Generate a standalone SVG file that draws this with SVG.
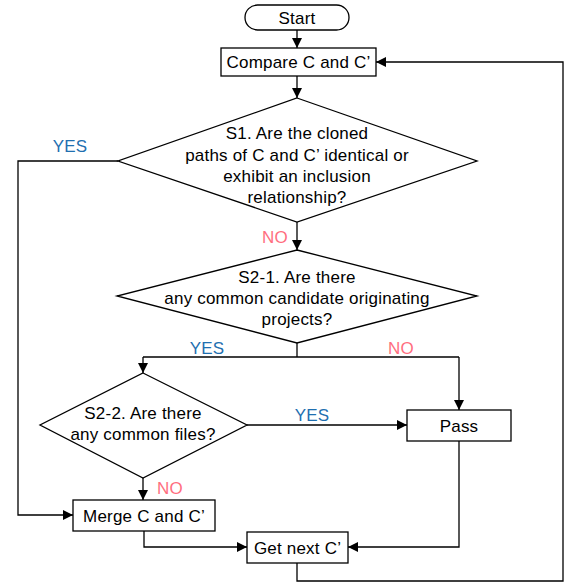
<svg xmlns="http://www.w3.org/2000/svg" width="570" height="584" viewBox="0 0 570 584">
<style>
.s{fill:#fff;stroke:#000;stroke-width:1.3}
.t{font-family:"Liberation Sans",Arial,sans-serif;font-size:17px;letter-spacing:0.2px;fill:#000;text-anchor:middle}
.c{fill:none;stroke:#000;stroke-width:1.3}
.yes{font-family:"Liberation Sans",Arial,sans-serif;font-size:17px;letter-spacing:0.2px;fill:#1f6fb0;text-anchor:middle}
.no{font-family:"Liberation Sans",Arial,sans-serif;font-size:17px;letter-spacing:0.2px;fill:#ff6f7f;text-anchor:middle}
</style>
<defs>
<marker id="a" viewBox="0 0 10 10" refX="10" refY="5" markerWidth="10" markerHeight="10" markerUnits="userSpaceOnUse" orient="auto">
<path d="M0,0 L10,5 L0,10 z" fill="#000"/>
</marker>
</defs>
<rect width="570" height="584" fill="#fff"/>
<g id="start"><rect class="s" x="245" y="5" width="104" height="25" rx="12.5"/><text class="t" x="297" y="23.5">Start</text></g>
<g id="compare"><rect class="s" x="221" y="48" width="155" height="28"/><text class="t" x="298.5" y="68">Compare C and C’</text></g>
<g id="s1"><polygon class="s" points="297,98 477,161 297,222 118,161"/>
<text class="t" x="297" y="139">S1. Are the cloned</text>
<text class="t" x="297" y="161">paths of C and C’ identical or</text>
<text class="t" x="297" y="182">exhibit an inclusion</text>
<text class="t" x="297" y="203">relationship?</text></g>
<g id="s21"><polygon class="s" points="297,250 477,296 297,343 117,296"/>
<text class="t" x="297" y="283">S2-1. Are there</text>
<text class="t" x="297" y="304">any common candidate originating</text>
<text class="t" x="297" y="325">projects?</text></g>
<g id="s22"><polygon class="s" points="143,373 247,425 143,478 40,425"/>
<text class="t" x="143" y="419">S2-2. Are there</text>
<text class="t" x="143" y="440">any common files?</text></g>
<g id="pass"><rect class="s" x="407" y="410" width="104" height="31"/><text class="t" x="459" y="431.5">Pass</text></g>
<g id="merge"><rect class="s" x="73" y="500" width="142" height="31"/><text class="t" x="144" y="521.5">Merge C and C’</text></g>
<g id="next"><rect class="s" x="247" y="532" width="101" height="31"/><text class="t" x="297.5" y="553.5">Get next C’</text></g>
<g id="connectors">
<path class="c" d="M297,30 V48" marker-end="url(#a)"/>
<path class="c" d="M297,76 V98" marker-end="url(#a)"/>
<path class="c" d="M297,222 V250" marker-end="url(#a)"/>
<path class="c" d="M118,161 H18 V515 H73" marker-end="url(#a)"/>
<path class="c" d="M297,343 V357"/>
<path class="c" d="M143,357 H459"/>
<path class="c" d="M143,357 V373" marker-end="url(#a)"/>
<path class="c" d="M459,357 V410" marker-end="url(#a)"/>
<path class="c" d="M247,425 H407" marker-end="url(#a)"/>
<path class="c" d="M143,478 V500" marker-end="url(#a)"/>
<path class="c" d="M144,531 V547 H247" marker-end="url(#a)"/>
<path class="c" d="M459,441 V547 H348" marker-end="url(#a)"/>
<path class="c" d="M297,563 V581 H563 V62 H376" marker-end="url(#a)"/>
</g>
<g id="labels">
<text class="yes" x="70" y="152">YES</text>
<text class="no" x="275" y="243">NO</text>
<text class="yes" x="207" y="354">YES</text>
<text class="no" x="401" y="354">NO</text>
<text class="yes" x="312" y="421">YES</text>
<text class="no" x="170" y="494">NO</text>
</g>
</svg>
